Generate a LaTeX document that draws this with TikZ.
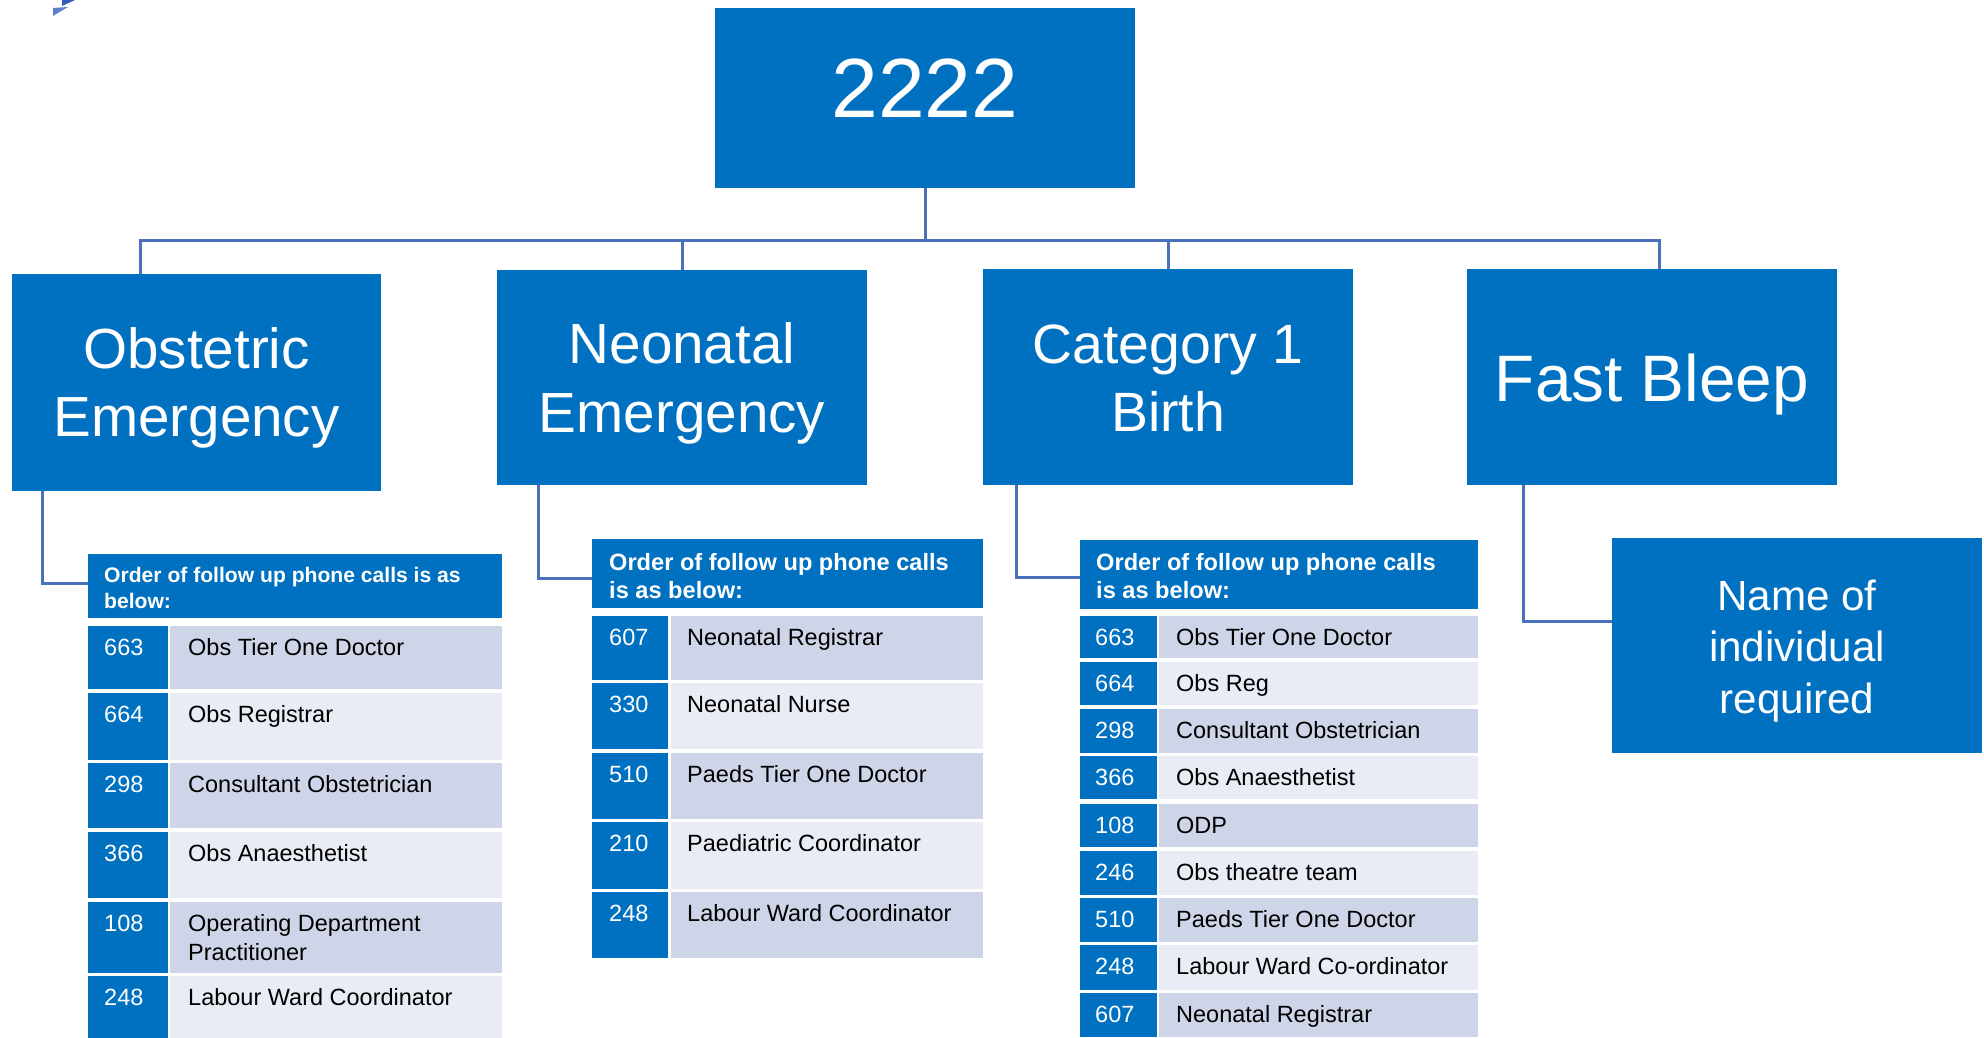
\documentclass[tikz,border=0pt]{standalone}
\usepackage{fontspec}
\setmainfont{Liberation Sans}
\definecolor{boxblue}{HTML}{0070C0}
\definecolor{linkblue}{HTML}{4A72BC}
\definecolor{rowdark}{RGB}{207,213,232}
\definecolor{rowlight}{RGB}{233,236,245}
\definecolor{markdark}{HTML}{2E5CB8}
\definecolor{marklight}{HTML}{5A82CC}
\newcommand\fsz[2]{\fontsize{#1}{#2}\selectfont}
\tikzset{
  bigbox/.style={fill=boxblue, draw=none, inner sep=0pt, anchor=north west},
  cellbox/.style={draw=none, inner sep=0pt, anchor=north west},
  bigtext/.style={text=white, inner sep=0pt, anchor=base},
  headtext/.style={text=white, inner sep=0pt, anchor=base west},
  numtext/.style={text=white, inner sep=0pt, anchor=base west, font=\fsz{23.5}{29}},
  rowtext/.style={text=black, inner sep=0pt, anchor=base west},
  link/.style={draw=linkblue, line width=3pt},
}
\begin{document}
\begin{tikzpicture}[x=1pt,y=-1pt]
\useasboundingbox (0,0) rectangle (1984,1038);
\clip (0,0) rectangle (1984,1038);
\fill[white] (0,0) rectangle (1984,1038);
% corner mark
\fill[markdark] (62,0) -- (75,0) -- (62,6) -- cycle;
\fill[marklight] (53,8) -- (68,7) -- (53,16) -- cycle;

% main boxes
\node[bigbox, minimum width=420pt, minimum height=180pt] (top) at (715,8) {};
\node[bigbox, minimum width=369pt, minimum height=217pt] (obs) at (12,274) {};
\node[bigbox, minimum width=370pt, minimum height=215pt] (neo) at (497,270) {};
\node[bigbox, minimum width=370pt, minimum height=216pt] (cat) at (983,269) {};
\node[bigbox, minimum width=370pt, minimum height=216pt] (fb) at (1467,269) {};
\node[bigbox, minimum width=370pt, minimum height=215pt] (name) at (1612,538) {};

\node[bigtext, font=\fsz{84}{100}] (toptxt) at (925,118) {2222};
\node[bigtext] (obstxt) at (196.5,368) {\parbox[t]{360pt}{\centering\fsz{56.6}{68}Obstetric\\Emergency}};
\node[bigtext] (neotxt) at (682,363) {\parbox[t]{360pt}{\centering\fsz{56.6}{69}Neonatal\\Emergency}};
\node[bigtext] (cattxt) at (1168,363) {\parbox[t]{360pt}{\centering\fsz{55.4}{68}Category 1\\Birth}};
\node[bigtext, font=\fsz{65.7}{79}] (fbtxt) at (1652,401) {Fast Bleep};
\node[bigtext] (nametxt) at (1797,610) {\parbox[t]{360pt}{\centering\fsz{42.2}{51.5}Name of\\individual\\required}};

% table 1 (obstetric)
\node[bigbox, minimum width=414pt, minimum height=64pt] (t1h) at (88,554) {};
\node[headtext] (t1ht) at (104,582) {\parbox[t]{400pt}{\raggedright\fsz{21.1}{26}\bfseries Order of follow up phone calls is as\\below:}};
\foreach \ri/\rtop/\rh/\rc/\rnum/\rtxt in {
 1/626/63/rowdark/663/{Obs Tier One Doctor},
 2/693/67/rowlight/664/{Obs Registrar},
 3/763/65/rowdark/298/{Consultant Obstetrician},
 4/832/66/rowlight/366/{Obs Anaesthetist},
 5/902/71/rowdark/108/{Operating Department\\Practitioner},
 6/976/70/rowlight/248/{Labour Ward Coordinator}}{
  \node[cellbox, fill=boxblue, minimum width=80pt, minimum height=\rh pt] (t1n\ri) at (88,\rtop) {};
  \node[cellbox, fill=\rc, minimum width=332pt, minimum height=\rh pt] (t1r\ri) at (170,\rtop) {};
  \node[numtext] (t1nt\ri) at (104,\rtop+29) {\rnum};
  \node[rowtext] (t1rt\ri) at (188,\rtop+29) {\parbox[t]{310pt}{\raggedright\fsz{23.5}{29}\rtxt}};
}

% table 2 (neonatal)
\node[bigbox, minimum width=391pt, minimum height=69pt] (t2h) at (592,539) {};
\node[headtext] (t2ht) at (609,570) {\parbox[t]{380pt}{\raggedright\fsz{23.6}{28}\bfseries Order of follow up phone calls\\is as below:}};
\foreach \ri/\rtop/\rh/\rc/\rnum/\rtxt in {
 1/616/64/rowdark/607/{Neonatal Registrar},
 2/683/66/rowlight/330/{Neonatal Nurse},
 3/753/66/rowdark/510/{Paeds Tier One Doctor},
 4/822/67/rowlight/210/{Paediatric Coordinator},
 5/892/66/rowdark/248/{Labour Ward Coordinator}}{
  \node[cellbox, fill=boxblue, minimum width=76pt, minimum height=\rh pt] (t2n\ri) at (592,\rtop) {};
  \node[cellbox, fill=\rc, minimum width=312pt, minimum height=\rh pt] (t2r\ri) at (671,\rtop) {};
  \node[numtext] (t2nt\ri) at (609,\rtop+29) {\rnum};
  \node[rowtext] (t2rt\ri) at (687,\rtop+29) {\parbox[t]{290pt}{\raggedright\fsz{23.5}{29}\rtxt}};
}

% table 3 (category 1)
\node[bigbox, minimum width=398pt, minimum height=69pt] (t3h) at (1080,540) {};
\node[headtext] (t3ht) at (1096,570) {\parbox[t]{380pt}{\raggedright\fsz{23.6}{28}\bfseries Order of follow up phone calls\\is as below:}};
\foreach \ri/\rtop/\rh/\rc/\rnum/\rtxt in {
 1/616/42/rowdark/663/{Obs Tier One Doctor},
 2/662/43/rowlight/664/{Obs Reg},
 3/709/44/rowdark/298/{Consultant Obstetrician},
 4/756/43/rowlight/366/{Obs Anaesthetist},
 5/804/43/rowdark/108/{ODP},
 6/851/44/rowlight/246/{Obs theatre team},
 7/898/44/rowdark/510/{Paeds Tier One Doctor},
 8/945/45/rowlight/248/{Labour Ward Co-ordinator},
 9/993/44/rowdark/607/{Neonatal Registrar}}{
  \node[cellbox, fill=boxblue, minimum width=77pt, minimum height=\rh pt] (t3n\ri) at (1080,\rtop) {};
  \node[cellbox, fill=\rc, minimum width=319pt, minimum height=\rh pt] (t3r\ri) at (1159,\rtop) {};
  \node[numtext] (t3nt\ri) at (1095,\rtop+29) {\rnum};
  \node[rowtext] (t3rt\ri) at (1176,\rtop+29) {\parbox[t]{300pt}{\raggedright\fsz{23.5}{29}\rtxt}};
}

% connectors
\coordinate (busL) at (140,240);
\coordinate (busR) at (1659,240);
\draw[link] (busL |- obs.north) -- (busL) -- (busR) -- (busR |- fb.north);
\draw[link] (top.south) -- (top.south |- busL);
\draw[link] (neo.north) -- (neo.north |- busL);
\draw[link] (cat.north) -- (cat.north |- busL);
\draw[link] ([xshift=30pt]obs.south west) |- ([yshift=3pt]t1h.west);
\draw[link] ([xshift=41pt]neo.south west) |- ([yshift=-4.5pt]t2h.west);
\draw[link] ([xshift=33pt]cat.south west) |- ([yshift=-2.5pt]t3h.west);
\draw[link] ([xshift=56pt]fb.south west) |- ([yshift=24.5pt]name.west);
\end{tikzpicture}
\end{document}
